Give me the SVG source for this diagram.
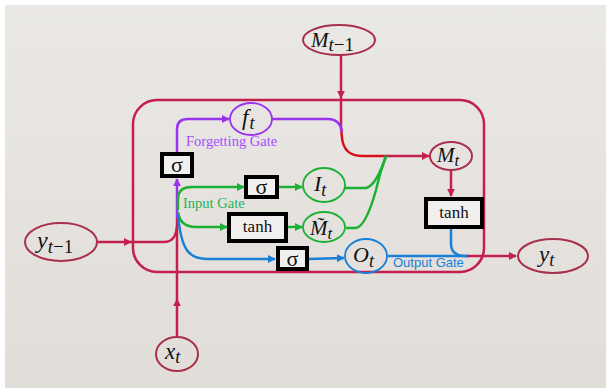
<svg xmlns="http://www.w3.org/2000/svg" width="606" height="390" viewBox="0 0 606 390">
  <defs>
    <linearGradient id="bg" x1="0" y1="0" x2="0" y2="1">
      <stop offset="0" stop-color="#eae8e5"/>
      <stop offset="1" stop-color="#e1ddd9"/>
    </linearGradient>
    <marker id="aCrim" viewBox="0 0 10 10" refX="9" refY="5" markerWidth="8" markerHeight="8" markerUnits="userSpaceOnUse" orient="auto">
      <path d="M0,0 L10,5 L0,10 z" fill="#c41f4e"/>
    </marker>
    <marker id="aPurp" viewBox="0 0 10 10" refX="9" refY="5" markerWidth="8" markerHeight="8" markerUnits="userSpaceOnUse" orient="auto">
      <path d="M0,0 L10,5 L0,10 z" fill="#9933ee"/>
    </marker>
    <marker id="aGreen" viewBox="0 0 10 10" refX="9" refY="5" markerWidth="8" markerHeight="8" markerUnits="userSpaceOnUse" orient="auto">
      <path d="M0,0 L10,5 L0,10 z" fill="#1cb034"/>
    </marker>
    <marker id="aBlue" viewBox="0 0 10 10" refX="9" refY="5" markerWidth="8" markerHeight="8" markerUnits="userSpaceOnUse" orient="auto">
      <path d="M0,0 L10,5 L0,10 z" fill="#1a7fd6"/>
    </marker>
  </defs>
  <style>
    .crim { fill: none; stroke: #c41f4e; stroke-width: 2.5; }
    .red { fill: none; stroke: #d8101c; stroke-width: 2.5; }
    .purp { fill: none; stroke: #9933ee; stroke-width: 2.5; }
    .grn { fill: none; stroke: #1cb034; stroke-width: 2.5; }
    .blu { fill: none; stroke: #1a7fd6; stroke-width: 2.5; }
    .state { fill: none; stroke: #a8304c; stroke-width: 2; }
    .gEl { fill: none; stroke: #1cb034; stroke-width: 1.8; }
    .bEl { fill: none; stroke: #1a7fd6; stroke-width: 1.8; }
    .pEl { fill: none; stroke: #9933ee; stroke-width: 1.8; }
    .box { fill: #f2f0ee; stroke: #000; stroke-width: 4; }
    .math { font-style: italic; fill: #111; }
    .up { font-style: normal; }
    .op { fill: #111; text-anchor: middle; }
    .gate { font-size: 14.5px; }
  </style>

  <!-- canvas -->
  <rect x="0" y="0" width="606" height="390" fill="#ffffff"/>
  <rect x="5" y="5" width="601" height="383" fill="url(#bg)"/>

  <!-- cell boundary -->
  <rect x="133" y="100" width="351" height="172" rx="24" ry="24" fill="none" stroke="#c41f4e" stroke-width="2.5"/>

  <g id="connectors">
    <!-- previous memory into the cell -->
    <path class="crim" d="M341,55 L341,98" marker-end="url(#aCrim)"/>
    <path class="crim" d="M341,98 L341,128"/>
    <path class="red" d="M341,128 L342,138 Q344,156 362,156 L386,156"/>
    <path class="crim" d="M386,156 L429,156" marker-end="url(#aCrim)"/>
    <!-- forget gate output joins memory line -->
    <path class="purp" d="M272,119 L328,119 Q340,119 342,132"/>
    <!-- previous output and current input -->
    <path class="crim" d="M97,242 L131,242" marker-end="url(#aCrim)"/>
    <path class="crim" d="M131,242 L164,242 Q176,242 177,226"/>
    <path class="crim" d="M177,337 L177,299" marker-end="url(#aCrim)"/>
    <path class="crim" d="M177,299 L177,218"/>
    <!-- forget gate branch -->
    <path class="purp" d="M177,218 L177,179" marker-end="url(#aPurp)"/>
    <path class="purp" d="M177,153 L177,129 Q177,119 188,119 L229,119" marker-end="url(#aPurp)"/>
    <!-- input gate branches -->
    <path class="grn" d="M178,210 L178,199 Q178,187 192,187 L244,187" marker-end="url(#aGreen)"/>
    <path class="grn" d="M278,187 L302,187" marker-end="url(#aGreen)"/>
    <path class="grn" d="M178,212 Q180,227 196,227 L227,227" marker-end="url(#aGreen)"/>
    <path class="grn" d="M287,227 L302,227" marker-end="url(#aGreen)"/>
    <path class="grn" d="M345,188 L366,188 Q376,186 386,156"/>
    <path class="grn" d="M346,228 L356,228 Q366,226 376,190 Q380,172 386,156"/>
    <!-- output gate branch -->
    <path class="blu" d="M178,214 C181,252 190,259 208,259 L275,259" marker-end="url(#aBlue)"/>
    <path class="blu" d="M308,259 L344,258" marker-end="url(#aBlue)"/>
    <path class="blu" d="M388,256 L468,256"/>
    <!-- memory through tanh to output -->
    <path class="crim" d="M451,170 L451,196" marker-end="url(#aCrim)"/>
    <path class="blu" d="M451,228 L451,244 Q451,255 464,256 L468,256"/>
    <path class="crim" d="M467,256 L516,256" marker-end="url(#aCrim)"/>
  </g>

  <g font-family="Liberation Serif, Times New Roman, serif">
  <g id="M_prev">
    <ellipse class="state" cx="339" cy="40" rx="36" ry="15"/>
    <text class="math" x="311" y="47" font-size="21">M<tspan font-size="19" dy="4">t<tspan class="up">−1</tspan></tspan></text>
  </g>

  <g id="f_t">
    <ellipse class="pEl" cx="251" cy="119" rx="21" ry="16"/>
    <text class="math" x="242" y="125" font-size="23">f<tspan font-size="18" dx="1" dy="4">t</tspan></text>
  </g>

  <g id="M_t">
    <ellipse class="state" cx="451" cy="156" rx="21" ry="14"/>
    <text class="math" x="437" y="162" font-size="21">M<tspan font-size="17" dy="4">t</tspan></text>
  </g>

  <g id="sigma_f">
    <rect class="box" x="162" y="154" width="30" height="22"/>
    <text class="op" x="177" y="172" font-size="22">σ</text>
  </g>
  <text class="gate" x="186" y="146" fill="#a64dff">Forgetting Gate</text>

  <g id="sigma_i">
    <rect class="box" x="246" y="177" width="31" height="20"/>
    <text class="op" x="261.5" y="194" font-size="22">σ</text>
  </g>
  <text class="gate" x="183" y="208" fill="#22b457">Input Gate</text>

  <g id="I_t">
    <ellipse class="gEl" cx="324" cy="185" rx="21" ry="17"/>
    <text class="math" x="314" y="191" font-size="22">I<tspan font-size="18" dy="5">t</tspan></text>
  </g>

  <g id="tanh_c">
    <rect class="box" x="229" y="214" width="57" height="27"/>
    <text class="op" x="257.5" y="232" font-size="17">tanh</text>
  </g>

  <g id="M_tilde">
    <ellipse class="gEl" cx="324" cy="227" rx="21" ry="15"/>
    <text class="math" x="310" y="235" font-size="21">M&#x303;<tspan font-size="17" dy="4">t</tspan></text>
  </g>

  <g id="sigma_o">
    <rect class="box" x="278" y="248" width="29" height="21"/>
    <text class="op" x="292.5" y="266" font-size="22">σ</text>
  </g>

  <g id="O_t">
    <ellipse class="bEl" cx="366" cy="256" rx="21" ry="17"/>
    <text class="math" x="353" y="262" font-size="22">O<tspan font-size="18" dy="5">t</tspan></text>
  </g>

  <g id="tanh_h">
    <rect class="box" x="426" y="199" width="56" height="28"/>
    <text class="op" x="454" y="218" font-size="17">tanh</text>
  </g>

  <g id="y_t">
    <ellipse class="state" cx="553" cy="256" rx="35" ry="17"/>
    <text class="math" x="539" y="262" font-size="23">y<tspan font-size="18" dy="4">t</tspan></text>
  </g>

  <g id="y_prev">
    <ellipse class="state" cx="61" cy="242" rx="36" ry="19"/>
    <text class="math" x="37" y="248" font-size="24">y<tspan font-size="19" dy="5">t<tspan class="up">−1</tspan></tspan></text>
  </g>

  <g id="x_t">
    <ellipse class="state" cx="177" cy="354" rx="21" ry="17"/>
    <text class="math" x="165" y="359" font-size="23">x<tspan font-size="18" dy="4">t</tspan></text>
  </g>
  </g>
  <text x="393" y="267" font-family="Liberation Sans, Arial, sans-serif" font-size="13" fill="#1a7fd6">Output Gate</text>
</svg>
